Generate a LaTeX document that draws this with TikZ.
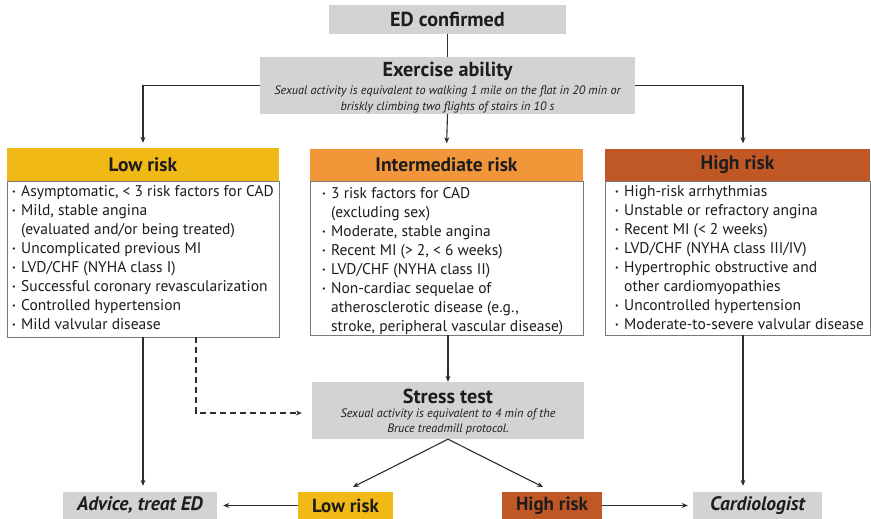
\documentclass[tikz,border=0pt]{standalone}
\usepackage{fontspec}
\setmainfont{PT Sans}
\usetikzlibrary{arrows.meta,calc}
\definecolor{boxgray}{RGB}{211,211,212}
\definecolor{lowc}{RGB}{241,185,22}
\definecolor{midc}{RGB}{242,150,58}
\definecolor{highc}{RGB}{192,88,38}
\definecolor{txt}{RGB}{30,28,28}
\definecolor{edge}{RGB}{120,120,120}
\definecolor{arr}{RGB}{45,45,45}
\newcommand{\bul}{\makebox[9pt][l]{\raisebox{1.5pt}{\fontsize{8}{8}\selectfont\textbullet}}}
\newcommand{\ind}{\hspace*{9pt}}
\begin{document}
\begin{tikzpicture}[x=1pt,y=-1pt,
  graybox/.style={fill=boxgray,draw=none,inner sep=0,minimum width=#1},
  hdr/.style={fill=#1,draw=none,inner sep=0,minimum height=33pt,text=txt,font=\fontsize{19.5}{22}\selectfont\bfseries},
  bodybox/.style={draw=edge,line width=0.8pt,fill=white,inner sep=0},
  bodytxt/.style={anchor=north west,align=left,inner sep=0,text=txt,font=\fontsize{15.5}{19}\selectfont},
  titletxt/.style={text=txt,inner sep=0,font=\fontsize{20.2}{22}\selectfont\bfseries},
  subtxt/.style={text=txt,inner sep=0,align=center,font=\fontsize{12.2}{15.5}\selectfont\itshape},
  endtxt/.style={text=txt,font=\fontsize{19.5}{20}\selectfont\bfseries\itshape},
  endhdr/.style={fill=#1,inner sep=0,minimum height=27pt,text=txt,font=\fontsize{19}{20}\selectfont\bfseries},
  conn/.style={draw=arr,line width=1.1pt,-{Stealth[length=6pt,width=5pt]}},
  dconn/.style={conn,dash pattern=on 6pt off 4pt}
]
\useasboundingbox (0,0) rectangle (871,519);

% top boxes
\node[graybox=237pt,minimum height=29pt,titletxt] (ed) at (447.5,19.5) {ED confirmed};
\node[graybox=375pt,minimum height=57pt] (ex) at (447.5,85.5) {};
\node[titletxt] (exT) at (447.5,71.5) {Exercise ability};
\node[subtxt] (exS) at (447.5,99.5) {Sexual activity is equivalent to walking 1 mile on the flat in 20 min or\\briskly climbing two flights of stairs in 10 s};

% risk columns
\node[hdr=lowc,minimum width=272pt] (lowh) at (143,164.5) {Low risk};
\node[bodybox,minimum width=272pt,minimum height=156pt] (lowb) at (143,259) {};
\node[bodytxt] (lowt) at (12,185) {\bul Asymptomatic, < 3 risk factors for CAD\\
\bul Mild, stable angina\\
\ind (evaluated and/or being treated)\\
\bul Uncomplicated previous MI\\
\bul LVD/CHF (NYHA class I)\\
\bul Successful coronary revascularization\\
\bul Controlled hypertension\\
\bul Mild valvular disease};

\node[hdr=midc,minimum width=273pt] (midh) at (446.5,165) {Intermediate risk};
\node[bodybox,minimum width=273pt,minimum height=154pt] (midb) at (446.5,258) {};
\node[bodytxt] (midt) at (322,187) {\bul 3 risk factors for CAD\\
\ind (excluding sex)\\
\bul Moderate, stable angina\\
\bul Recent MI (> 2, < 6 weeks)\\
\bul LVD/CHF (NYHA class II)\\
\bul Non-cardiac sequelae of\\
\ind atherosclerotic disease (e.g.,\\
\ind stroke, peripheral vascular disease)};

\node[hdr=highc,minimum width=265pt] (highh) at (737.5,165) {High risk};
\node[bodybox,minimum width=265pt,minimum height=154pt] (highb) at (737.5,258) {};
\node[bodytxt] (hight) at (615,185) {\bul High-risk arrhythmias\\
\bul Unstable or refractory angina\\
\bul Recent MI (< 2 weeks)\\
\bul LVD/CHF (NYHA class III/IV)\\
\bul Hypertrophic obstructive and\\
\ind other cardiomyopathies\\
\bul Uncontrolled hypertension\\
\bul Moderate-to-severe valvular disease};

% stress test
\node[graybox=272pt,minimum height=57pt] (st) at (448,410.5) {};
\node[titletxt] (stT) at (448,396) {Stress test};
\node[subtxt] (stS) at (448,422) {Sexual activity is equivalent to 4 min of the\\Bruce treadmill protocol.};

% bottom boxes
\node[graybox=154pt,minimum height=27pt,endtxt] (adv) at (140,505.5) {Advice, treat ED};
\node[endhdr=lowc,minimum width=95pt] (lr) at (345.5,505.5) {Low risk};
\node[endhdr=highc,minimum width=100pt] (hr) at (552,505.5) {High risk};
\node[graybox=129pt,minimum height=27pt,endtxt] (card) at (757.5,505.5) {Cardiologist};

% coordinates
\coordinate (rcol) at (743,86);
\coordinate (d1) at (353,487);
\coordinate (d2) at (543,487);
\coordinate (dashc) at (196,413);

% connectors
\draw[draw=arr,line width=1.1pt] (ed.south) -- (ex.north);
\draw[conn,shorten >=5pt] (ex.west) -| (lowh.north);
\draw[conn,shorten >=5pt] (ex.east) -| (rcol |- highh.north);
\draw[conn,shorten >=5pt] (ex.south) -- (midh.north);
\draw[conn,shorten >=6pt] (lowb.south) -- (lowb.south |- adv.north);
\draw[conn,shorten >=6pt] (rcol |- highb.south) -- (rcol |- card.north);
\draw[conn] (midb.south -| st.north) -- (st.north);
\draw[dconn,shorten >=10pt] (dashc |- lowb.south) -- (dashc) -- (dashc -| st.west);
\draw[conn] (st.south) -- (d1);
\draw[conn] (st.south) -- (d2);
\draw[conn,shorten >=6pt] (lr.west) -- (adv.east);
\draw[conn,shorten >=5pt] (hr.east) -- (card.west);
\end{tikzpicture}
\end{document}
